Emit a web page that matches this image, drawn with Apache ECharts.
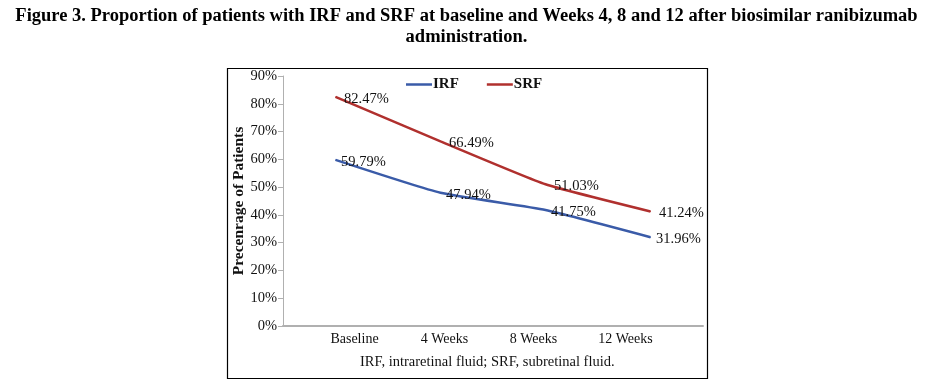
<!DOCTYPE html>
<html><head><meta charset="utf-8">
<script src="https://cdn.jsdelivr.net/npm/echarts@6/dist/echarts.min.js"></script>
<style>html,body{margin:0;padding:0;background:#fff}#c{width:933px;height:387px}</style>
</head><body><div id="c"></div>
<script>
const categories = ['Baseline', '4 Weeks', '8 Weeks', '12 Weeks'];
const irf = [59.79, 47.94, 41.75, 31.96];
const srf = [82.47, 66.49, 51.03, 41.24];
const yTicks = [0, 10, 20, 30, 40, 50, 60, 70, 80, 90];

const serif = '"Liberation Serif", "DejaVu Serif", serif';
const chart = echarts.init(document.getElementById('c'));
const labelShift = [38, 8, -24, -50];
const rich = {};
labelShift.forEach((s, i) => {
  rich['l' + i] = {fontFamily: serif, fontSize: 14, color: '#111',
    padding: s >= 0 ? [0, 0, 0, s] : [0, -s, 0, 0]};
});
const lbl = (dist) => ({show: true, position: 'right', distance: dist, offset: [0, 2],
  formatter: p => p.value.toFixed(2) + '%', fontFamily: serif, fontSize: 14.5, color: '#111'});
chart.setOption({
  animation: false,
  title: {
    text: 'Figure 3. Proportion of patients with IRF and SRF at baseline and Weeks 4, 8 and 12 after biosimilar ranibizumab\nadministration.',
    left: 'center', top: 1,
    textStyle: {fontFamily: serif, fontWeight: 'bold', fontSize: 18.5, color: '#000', lineHeight: 21}
  },
  graphic: [
    {type: 'rect', shape: {x: 227.5, y: 68.5, width: 480, height: 310},
     style: {fill: 'none', stroke: '#000', lineWidth: 1.2}, silent: true},
    {type: 'text', left: 360, top: 355,
     style: {text: 'IRF, intraretinal fluid; SRF, subretinal fluid.', font: '14.5px ' + serif, fill: '#111'}}
  ],
  legend: {
    left: 401, top: 72, itemWidth: 26, itemHeight: 2.5, itemGap: 28, icon: 'rect',
    textStyle: {fontFamily: serif, fontWeight: 'bold', fontSize: 15, color: '#111', padding: [0, 0, 0, -4]},
    data: ['IRF', 'SRF']
  },
  grid: {left: 283, right: 230, top: 76, bottom: 61, containLabel: false},
  xAxis: {
    type: 'category', data: categories, boundaryGap: true,
    axisLine: {lineStyle: {color: '#b0b0b0', width: 2}},
    axisTick: {show: false},
    axisLabel: {margin: 6, formatter: (v, i) => '{l' + i + '|' + v + '}', rich: rich}
  },
  yAxis: {
    type: 'value', min: yTicks[0], max: yTicks[yTicks.length - 1], interval: 10,
    name: 'Precenrage of Patients', nameLocation: 'middle', nameGap: 36,
    nameTextStyle: {fontFamily: serif, fontWeight: 'bold', fontSize: 15.5, color: '#111'},
    axisLine: {show: true, lineStyle: {color: '#b0b0b0', width: 1}},
    axisTick: {show: true, length: 5, lineStyle: {color: '#b0b0b0'}},
    splitLine: {show: false},
    axisLabel: {formatter: '{value}%', fontFamily: serif, fontSize: 14.5, color: '#111', margin: 6}
  },
  series: [
    {name: 'IRF', type: 'line', data: irf, smooth: 0.15, symbol: 'circle', symbolSize: 1, showSymbol: true,
     lineStyle: {color: '#3a5ba8', width: 2.5}, itemStyle: {color: '#3a5ba8'}, label: lbl(5)},
    {name: 'SRF', type: 'line', data: srf, smooth: 0.15, symbol: 'circle', symbolSize: 1, showSymbol: true,
     lineStyle: {color: '#b0302e', width: 2.5}, itemStyle: {color: '#b0302e'}, label: lbl(8)}
  ]
});
</script></body></html>
